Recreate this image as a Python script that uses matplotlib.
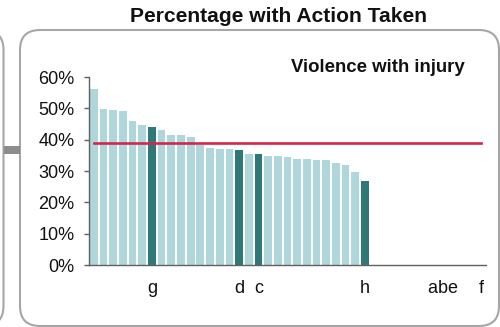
import matplotlib
matplotlib.use("Agg")
import matplotlib.pyplot as plt
from matplotlib.patches import FancyBboxPatch, Rectangle
from matplotlib.ticker import PercentFormatter

plt.rcParams['font.family'] = ['Liberation Sans', 'DejaVu Sans']

# ---- data ----
values = [56.2, 49.9, 49.5, 49.0, 46.1, 44.6, 43.9, 43.0, 41.6, 41.5,
          40.9, 38.3, 37.4, 37.1, 37.0, 36.8, 35.5, 35.5, 34.8, 34.8,
          34.4, 33.9, 33.8, 33.5, 33.5, 32.7, 32.0, 29.7, 26.7,
          0, 0, 0, 0, 0, 0, 0, 0, 0, 0, 0, 0]
labels = [''] * 41
labels[6] = 'g'
labels[15] = 'd'
labels[17] = 'c'
labels[28] = 'h'
labels[35] = 'a'
labels[36] = 'b'
labels[37] = 'e'
labels[40] = 'f'
highlighted = ['g', 'd', 'c', 'h', 'a', 'b', 'e', 'f']
average = 38.8
yticks = [0, 10, 20, 30, 40, 50, 60]
title = 'Percentage with Action Taken'
panel_label = 'Violence with injury'

LIGHT = '#afd6da'
DARK = '#2e7878'
RED = '#d5254b'

W, H = 500, 327
fig = plt.figure(figsize=(5, 3.27), dpi=100)

def fx(px):
    return px / W

def fy(py):
    return 1 - py / H

# outer rounded panels
main_box = FancyBboxPatch((fx(20), fy(326)), fx(499) - fx(20), fy(30) - fy(326),
                          boxstyle="round,pad=0,rounding_size=0.04",
                          transform=fig.transFigure, facecolor='white',
                          edgecolor='#a6a6a6', linewidth=1.5,
                          mutation_aspect=W / H, zorder=-5)
fig.patches.append(main_box)
left_box = FancyBboxPatch((fx(-200), fy(326)), fx(3.5) - fx(-200), fy(30) - fy(326),
                          boxstyle="round,pad=0,rounding_size=0.04",
                          transform=fig.transFigure, facecolor='white',
                          edgecolor='#a6a6a6', linewidth=1.5,
                          mutation_aspect=W / H, zorder=-5)
fig.patches.append(left_box)
conn = Rectangle((fx(4), fy(154)), fx(19.5) - fx(4), fy(146) - fy(154),
                 transform=fig.transFigure, facecolor='#8c8c8c', edgecolor='none', zorder=-5)
fig.patches.append(conn)

ax = fig.add_axes([fx(89), fy(265), fx(486) - fx(89), fy(77) - fy(265)])
ax.set_facecolor('none')
ax.set_zorder(5)

x = list(range(len(values)))
colors = [DARK if lab in highlighted else LIGHT for lab in labels]
ax.bar(x, values, width=0.8, color=colors, edgecolor='none', zorder=2)
ax.plot([0, len(values) - 1], [average, average], color=RED, linewidth=1.9, zorder=3)

ax.set_xlim(-0.5, len(values) - 0.5)
ax.set_ylim(0, 60)
ax.set_yticks(yticks)
ax.yaxis.set_major_formatter(PercentFormatter(decimals=0))
ax.set_xticks(x)
ax.set_xticklabels(labels)

for s in ['top', 'right']:
    ax.spines[s].set_visible(False)
for s in ['left', 'bottom']:
    ax.spines[s].set_color('#606060')
    ax.spines[s].set_linewidth(1.0)

ax.tick_params(axis='y', length=3.6, width=1.0, color='#606060', pad=7,
               labelsize=13, labelcolor='#111111')
ax.tick_params(axis='x', length=0, pad=11, labelsize=13, labelcolor='#111111')

fig.text(fx(278), fy(16), title, ha='center', va='center',
         fontsize=15.1, fontweight='bold', color='#111111', zorder=6)
fig.text(fx(378), fy(72), panel_label, ha='center', va='baseline',
         fontsize=13.4, fontweight='bold', color='#111111', zorder=6)

fig.savefig('out.png', dpi=100)
